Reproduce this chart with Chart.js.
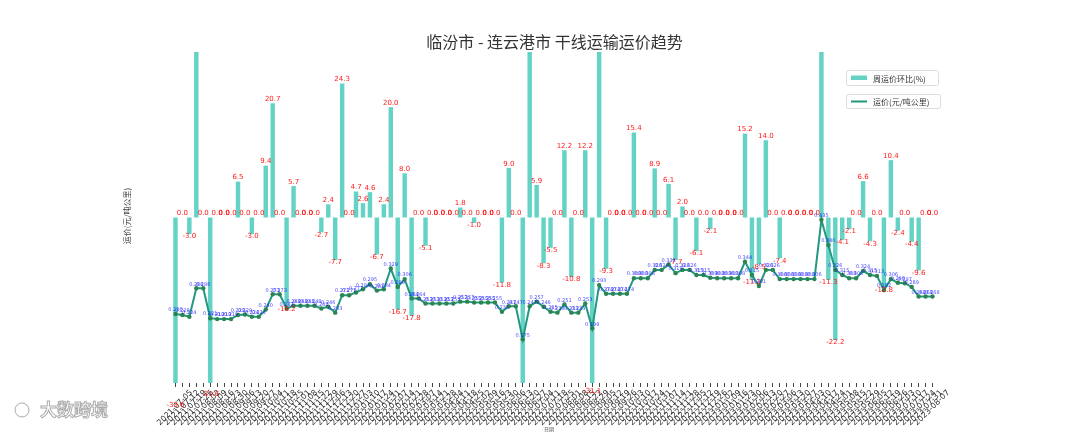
<!DOCTYPE html>
<html><head><meta charset="utf-8">
<script src="https://cdn.jsdelivr.net/npm/chart.js@4.4.0/dist/chart.umd.min.js"></script>
<style>html,body{margin:0;padding:0;background:#fff;}#wrap{width:1080px;height:432px;}</style>
</head><body><div id="wrap"><canvas id="c" width="1080" height="432" style="width:1080px;height:432px"></canvas></div>
<script>
const categories = [
'2021-07-05','2021-07-12','2021-07-19','2021-07-26','2021-08-02','2021-08-09','2021-08-16','2021-08-23','2021-08-30','2021-09-06',
'2021-09-13','2021-09-20','2021-09-27','2021-10-04','2021-10-11','2021-10-18','2021-10-25','2021-11-01','2021-11-08','2021-11-15',
'2021-11-22','2021-11-29','2021-12-06','2021-12-13','2021-12-20','2021-12-27',
'2022-01-03','2022-01-10','2022-01-17','2022-01-24','2022-01-31','2022-02-07','2022-02-14','2022-02-21','2022-02-28','2022-03-07',
'2022-03-14','2022-03-21','2022-03-28','2022-04-04','2022-04-11','2022-04-18','2022-04-25','2022-05-02','2022-05-09','2022-05-16',
'2022-05-23','2022-05-30','2022-06-06','2022-06-13','2022-06-20','2022-06-27','2022-07-04','2022-07-11','2022-07-18','2022-07-25',
'2022-08-01','2022-08-08','2022-08-15','2022-08-22','2022-08-29','2022-09-05','2022-09-12','2022-09-19','2022-09-26','2022-10-03',
'2022-10-10','2022-10-17','2022-10-24','2022-10-31','2022-11-07','2022-11-14','2022-11-21','2022-11-28','2022-12-05','2022-12-12',
'2022-12-19','2022-12-26',
'2023-01-02','2023-01-09','2023-01-16','2023-01-23','2023-01-30','2023-02-06','2023-02-13','2023-02-20','2023-02-27','2023-03-06',
'2023-03-13','2023-03-20','2023-03-27','2023-04-03','2023-04-10','2023-04-17','2023-04-24','2023-05-01','2023-05-08','2023-05-15',
'2023-05-22','2023-05-29','2023-06-05','2023-06-12','2023-06-19','2023-06-26','2023-07-03','2023-07-10','2023-07-17','2023-07-24',
'2023-07-31','2023-08-07'];

const weeklyChange = [
-33.6,0,-3.0,45,0,-31.6,0,0,0,6.5,
0,-3.0,0,9.4,20.7,0,-16.2,5.7,0,0,
0,-2.7,2.4,-7.7,24.3,0,4.7,2.6,4.6,-6.7,
2.4,20.0,-16.7,8.0,-17.8,0,-5.1,0,0,0,
0,1.8,0,-1.0,0,0,0,-11.8,9.0,0,
-40,45,5.9,-8.3,-5.5,0,12.2,-10.8,0,12.2,
-31.1,45,-9.3,0,0,0,15.4,0,0,8.9,
0,6.1,-7.7,2.0,0,-6.1,0,-2.1,0,0,
0,0,15.2,-11.3,-8.5,14.0,0,-7.4,0,0,
0,0,0,45,-11.3,-22.2,-4.1,-2.1,0,6.6,
-4.3,0,-12.8,10.4,-2.4,0,-4.4,-9.6,0,0];

const freightPrice = [
0.230,0.228,0.224,0.286,0.286,0.221,0.219,0.219,0.219,0.228,
0.229,0.224,0.224,0.240,0.273,0.273,0.242,0.248,0.248,0.248,
0.248,0.242,0.246,0.233,0.271,0.271,0.277,0.284,0.295,0.281,
0.284,0.329,0.289,0.306,0.264,0.264,0.253,0.253,0.253,0.253,
0.253,0.257,0.257,0.255,0.255,0.255,0.255,0.235,0.247,0.247,
0.175,0.247,0.257,0.246,0.235,0.233,0.251,0.233,0.233,0.253,
0.199,0.293,0.274,0.274,0.274,0.274,0.308,0.308,0.308,0.326,
0.326,0.338,0.319,0.326,0.326,0.315,0.315,0.309,0.308,0.308,
0.308,0.308,0.344,0.315,0.291,0.326,0.326,0.306,0.306,0.306,
0.306,0.306,0.306,0.435,0.380,0.326,0.315,0.308,0.308,0.324,
0.315,0.313,0.282,0.306,0.298,0.297,0.289,0.268,0.268,0.268];

const chartTitle = '临汾市 - 连云港市 干线运输运价趋势';
const barLegend = '周运价环比(%)';
const lineLegend = '运价(元/吨公里)';
const yAxisTitle = '运价(元/吨公里)';
const xAxisTitle = '日期';
const watermark = '大数跨境';

const BAR_COLOR = 'rgba(78,205,190,0.88)';
const LINE_COLOR = '#23977f';
const POINT_COLOR = '#2b8550';
const CJK = '"Noto Sans CJK SC"';

const deco = {
  id: 'deco',
  afterDatasetsDraw(chart) {
    const ctx = chart.ctx, ys = chart.scales.y;
    const barMeta = chart.getDatasetMeta(0), lineMeta = chart.getDatasetMeta(1);
    ctx.save();
    ctx.font = '7px "DejaVu Sans"';
    ctx.fillStyle = 'rgba(255,0,0,0.9)';
    ctx.textAlign = 'center';
    barMeta.data.forEach((el, i) => {
      const v = weeklyChange[i];
      const py = ys.getPixelForValue(v);
      if (v >= 0) { ctx.textBaseline = 'bottom'; ctx.fillText(v.toFixed(1), el.x, py - 0.5); }
      else { ctx.textBaseline = 'top'; ctx.fillText(v.toFixed(1), el.x, py - 1); }
    });
    ctx.font = '5px "DejaVu Sans"';
    ctx.fillStyle = 'rgba(20,20,255,0.8)';
    ctx.textBaseline = 'bottom';
    lineMeta.data.forEach((el, i) => {
      ctx.fillText(freightPrice[i].toFixed(3), el.x, el.y - 1.5);
    });
    ctx.restore();
  },
  afterDraw(chart) {
    const ctx = chart.ctx;
    ctx.save();
    ctx.font = '16px ' + CJK;
    ctx.fillStyle = '#333';
    ctx.textAlign = 'center';
    ctx.textBaseline = 'middle';
    ctx.fillText(chartTitle, 554.5, 42);
    ctx.save();
    ctx.translate(127, 216);
    ctx.rotate(-Math.PI / 2);
    ctx.font = '8px ' + CJK;
    ctx.fillStyle = '#444';
    ctx.fillText(yAxisTitle, 0, 0);
    ctx.restore();
    ctx.font = '5px ' + CJK;
    ctx.fillStyle = '#555';
    ctx.fillText(xAxisTitle, 549, 429);
    function box(x, y, w, h) {
      ctx.beginPath();
      if (ctx.roundRect) ctx.roundRect(x, y, w, h, 2); else ctx.rect(x, y, w, h);
      ctx.fillStyle = '#fff'; ctx.fill();
      ctx.strokeStyle = '#dcdcdc'; ctx.lineWidth = 1; ctx.stroke();
    }
    box(846.5, 70.5, 92, 15);
    ctx.fillStyle = BAR_COLOR;
    ctx.fillRect(851, 75.5, 16, 4.5);
    ctx.font = '8px ' + CJK;
    ctx.fillStyle = '#333';
    ctx.textAlign = 'left';
    ctx.fillText(barLegend, 873, 78.5);
    box(846.5, 94.5, 94, 14);
    ctx.strokeStyle = LINE_COLOR; ctx.lineWidth = 2;
    ctx.beginPath(); ctx.moveTo(851, 101.5); ctx.lineTo(867, 101.5); ctx.stroke();
    ctx.fillStyle = '#333';
    ctx.fillText(lineLegend, 873, 102);
    ctx.font = 'bold 17px ' + CJK;
    ctx.strokeStyle = 'rgba(150,150,150,0.8)';
    ctx.lineWidth = 1;
    ctx.strokeText(watermark, 40, 410);
    ctx.beginPath(); ctx.arc(22, 410, 7, 0, Math.PI * 2); ctx.stroke();
    ctx.restore();
  }
};

new Chart(document.getElementById('c'), {
  type: 'bar',
  data: {
    labels: categories,
    datasets: [
      { type: 'bar', label: barLegend, data: weeklyChange, yAxisID: 'y', backgroundColor: BAR_COLOR,
        barPercentage: 0.64, categoryPercentage: 1.0, order: 2 },
      { type: 'line', label: lineLegend, data: freightPrice, yAxisID: 'y2', borderColor: LINE_COLOR, borderWidth: 2,
        pointRadius: 2.2, pointBackgroundColor: POINT_COLOR, pointBorderWidth: 0, tension: 0, order: 1 }
    ]
  },
  options: {
    responsive: false, animation: false, devicePixelRatio: 1,
    layout: { padding: { left: 172, right: 144, top: 52, bottom: 0 } },
    plugins: { legend: { display: false }, title: { display: false }, tooltip: { enabled: false } },
    scales: {
      x: {
        offset: true,
        grid: { display: true, offset: false, drawOnChartArea: false, drawTicks: true, tickLength: 4, color: '#444', lineWidth: 1 },
        border: { display: false },
        ticks: { autoSkip: false, maxRotation: 45, minRotation: 45, font: { size: 8, family: 'DejaVu Sans' }, color: '#333', padding: 1, labelOffset: 16 },
        afterFit(s) { s.height = 49; }
      },
      y: { display: false, min: -30, max: 30 },
      y2: { display: false, min: 0.08, max: 0.80, position: 'right' }
    }
  },
  plugins: [deco]
});
</script></body></html>
